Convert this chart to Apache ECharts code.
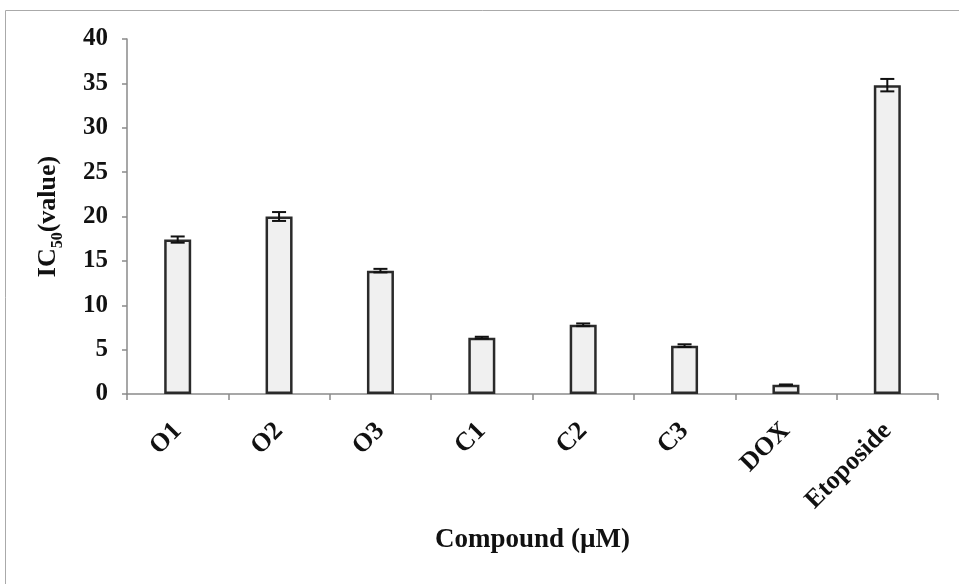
<!DOCTYPE html>
<html><head><meta charset="utf-8">
<script src="https://cdn.jsdelivr.net/npm/echarts@6/dist/echarts.min.js"></script>
<style>html,body{margin:0;padding:0;background:#fff}#c{width:959px;height:584px}</style>
</head><body><div id="c"></div>
<script>
var categories = ['O1','O2','O3','C1','C2','C3','DOX','Etoposide'];
var ic50 = [17.4, 20.0, 13.9, 6.35, 7.8, 5.45, 1.05, 34.8];
var errors = [0.35, 0.5, 0.2, 0.1, 0.15, 0.15, 0.0, 0.7];
var yTicks = [0, 5, 10, 15, 20, 25, 30, 35, 40];

var FONT = '"Liberation Serif","Times New Roman",serif';
var chart = echarts.init(document.getElementById('c'), null, {renderer:'canvas'});
var errData = categories.map(function(c,i){ return [i, ic50[i]-errors[i], ic50[i]+errors[i]]; });
chart.setOption({
  animation:false,
  graphic:[{type:'rect', shape:{x:5.5,y:10.5,width:1000,height:1000}, style:{fill:'none', stroke:'#aaaaaa', lineWidth:1}, silent:true}],
  grid:{left:127, right:21, top:39, bottom:190},
  xAxis:{
    type:'category', data:categories,
    axisLine:{lineStyle:{color:'#8a8a8a', width:1.5}},
    axisTick:{show:true, alignWithLabel:false, length:6, lineStyle:{color:'#8a8a8a', width:1.5}},
    axisLabel:{rotate:45, margin:33, fontFamily:FONT, fontWeight:'bold', fontSize:26, color:'#111'},
    name:'Compound (µM)', nameLocation:'middle', nameGap:133,
    nameTextStyle:{fontFamily:FONT, fontWeight:'bold', fontSize:27, color:'#111'}
  },
  yAxis:{
    type:'value', min:yTicks[0], max:yTicks[yTicks.length-1], interval:5,
    splitLine:{show:false},
    axisLine:{show:true, lineStyle:{color:'#8a8a8a', width:1.5}},
    axisTick:{show:true, length:5, lineStyle:{color:'#8a8a8a', width:1.5}},
    axisLabel:{margin:19, fontFamily:FONT, fontWeight:'bold', fontSize:25, color:'#111'},
    name:'{a|IC}{s|50}{a|(value)}', nameLocation:'middle', nameGap:66, nameRotate:90,
    nameTextStyle:{fontFamily:FONT, fontWeight:'bold', fontSize:26, color:'#111',
      rich:{a:{fontFamily:FONT, fontWeight:'bold', fontSize:26, color:'#111', lineHeight:30, verticalAlign:'bottom'},
            s:{fontFamily:FONT, fontWeight:'bold', fontSize:16, color:'#111', lineHeight:22, verticalAlign:'bottom', padding:[0,0,-5,0]}}}
  },
  series:[
    {type:'bar', data:ic50, barWidth:27,
     itemStyle:{color:'#f0f0f0', borderColor:'#2a2a2a', borderWidth:2.5}},
    {type:'custom', data:errData, z:10,
     renderItem:function(params, api){
       var x = api.value(0);
       var lo = api.coord([x, api.value(1)]);
       var hi = api.coord([x, api.value(2)]);
       var hw = 7;
       var st = {stroke:'#111', lineWidth:2};
       return {type:'group', children:[
         {type:'line', shape:{x1:lo[0], y1:lo[1], x2:hi[0], y2:hi[1]}, style:st},
         {type:'line', shape:{x1:lo[0]-hw, y1:lo[1], x2:lo[0]+hw, y2:lo[1]}, style:st},
         {type:'line', shape:{x1:hi[0]-hw, y1:hi[1], x2:hi[0]+hw, y2:hi[1]}, style:st}
       ]};
     }}
  ]
});
</script></body></html>
